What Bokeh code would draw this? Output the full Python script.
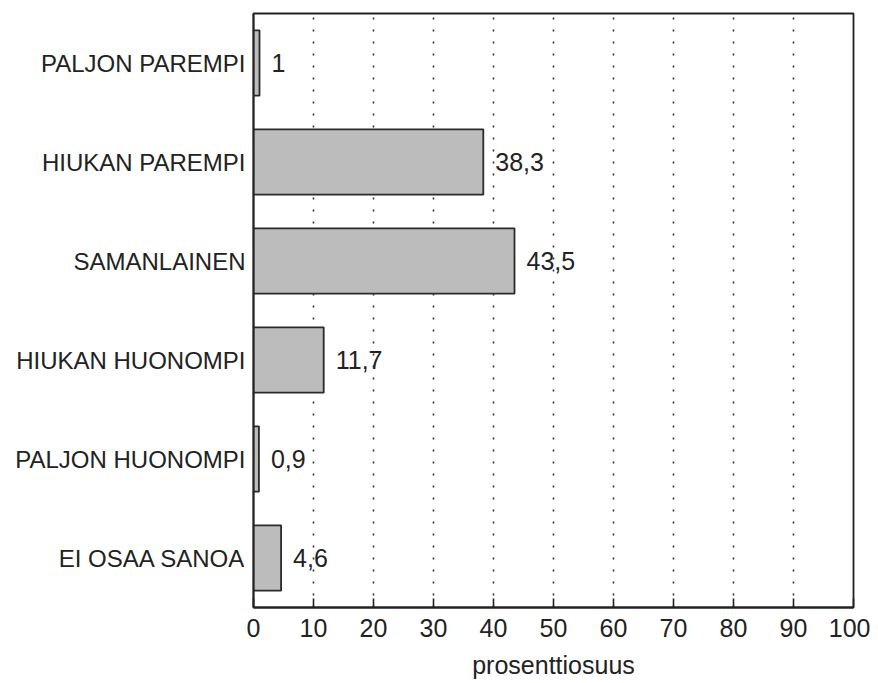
from bokeh.plotting import figure
from bokeh.models import ColumnDataSource, Range1d, FactorRange, FixedTicker, LinearAxis, CategoricalAxis
from bokeh.embed import file_html
from bokeh.resources import INLINE
from bokeh.core.properties import value

categories = ["PALJON PAREMPI", "HIUKAN PAREMPI", "SAMANLAINEN",
              "HIUKAN HUONOMPI", "PALJON HUONOMPI", "EI OSAA SANOA"]
values = [1, 38.3, 43.5, 11.7, 0.9, 4.6]
value_labels = ["1", "38,3", "43,5", "11,7", "0,9", "4,6"]
x_ticks = [0, 10, 20, 30, 40, 50, 60, 70, 80, 90, 100]
x_title = "prosenttiosuus"

FONT = "Liberation Sans"

src = ColumnDataSource(dict(cat=categories, val=values, lab=value_labels))

p = figure(width=870, height=683,
           y_range=FactorRange(factors=list(reversed(categories)), range_padding=0),
           x_range=Range1d(0, 100),
           output_backend="svg", toolbar_location=None,
           x_axis_location=None, y_axis_location=None)
p.min_border_left = 253
p.min_border_right = 17
p.min_border_top = 13
p.min_border_bottom = 76
p.background_fill_color = "white"
p.border_fill_color = "white"
p.outline_line_color = "#222222"
p.outline_line_width = 1.8

p.ygrid.visible = False
p.xgrid.visible = False

grid_x = x_ticks[1:-1]
grid_src = ColumnDataSource(dict(x=grid_x,
                                 y0=[(categories[-1], -0.5)] * len(grid_x),
                                 y1=[(categories[0], 0.5)] * len(grid_x)))
p.segment(x0="x", y0="y0", x1="x", y1="y1", source=grid_src,
          line_color="#333333", line_width=1.6, line_dash="2 10")

p.hbar(y="cat", right="val", left=0, height=0.66, source=src,
       fill_color="#bcbcbc", line_color="#2a2a2a", line_width=1.8)

p.text(x="val", y="cat", text="lab", source=src, x_offset=12,
       text_font=value(FONT), text_font_size="25px", text_color="#222222",
       text_baseline="middle", text_align="left")

xaxis = LinearAxis(ticker=FixedTicker(ticks=x_ticks), axis_label=x_title)
xaxis.major_tick_in = 9
xaxis.major_tick_out = 0
xaxis.minor_tick_in = 0
xaxis.minor_tick_out = 0
xaxis.axis_line_color = "#222222"
xaxis.axis_line_width = 1.8
xaxis.major_tick_line_color = "#222222"
xaxis.major_tick_line_width = 1.6
xaxis.major_label_text_font = FONT
xaxis.major_label_text_font_size = "25px"
xaxis.major_label_text_color = "#222222"
xaxis.major_label_standoff = 11
xaxis.axis_label_text_font = FONT
xaxis.axis_label_text_font_size = "25px"
xaxis.axis_label_text_font_style = "normal"
xaxis.axis_label_text_color = "#222222"
xaxis.axis_label_standoff = 11
p.add_layout(xaxis, "below")

yaxis = CategoricalAxis()
yaxis.major_tick_in = 0
yaxis.major_tick_out = 0
yaxis.axis_line_color = "#222222"
yaxis.axis_line_width = 1.8
yaxis.major_label_text_font = FONT
yaxis.major_label_text_font_size = "24px"
yaxis.major_label_text_color = "#222222"
yaxis.major_label_standoff = 8
p.add_layout(yaxis, "left")

open("out.html", "w").write(file_html(p, INLINE))
